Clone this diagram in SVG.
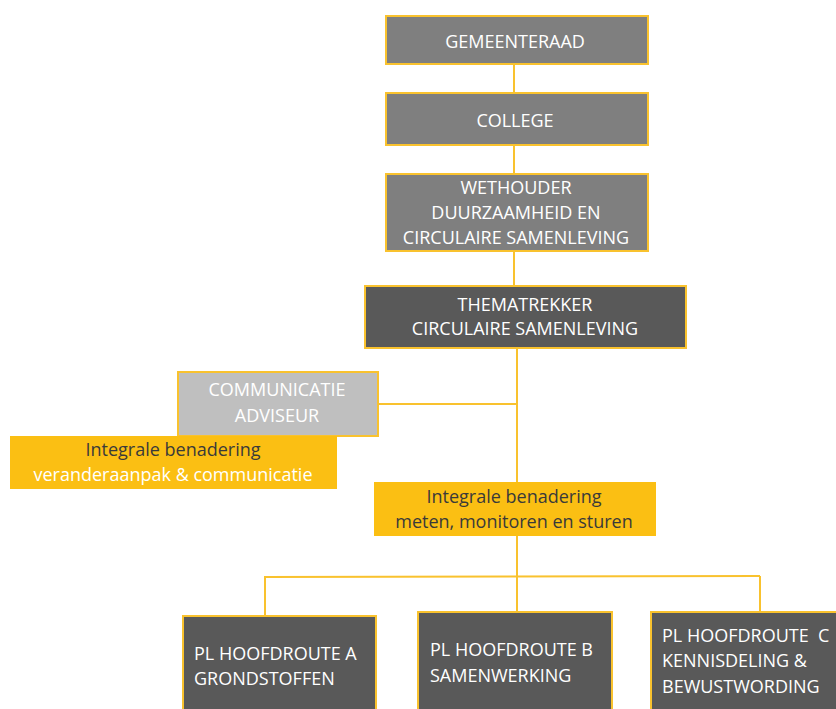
<svg xmlns="http://www.w3.org/2000/svg" width="836" height="709" viewBox="0 0 836 709">
<style>
.box{stroke:#f9c22e;stroke-width:2}
.g1{fill:#7f7f7f}
.g2{fill:#595959}
.g3{fill:#bfbfbf}
.or{fill:#fbbf13}
text{font-family:"Open Sans","Liberation Sans",sans-serif;font-size:18px}
.w{fill:#ffffff}
.d{fill:#3a3a3a}
.c{text-anchor:middle}
.conn line{stroke:#f9c22e;stroke-width:2}
</style>
<rect width="836" height="709" fill="#ffffff"/>
<g class="conn" id="connectors">
<line x1="514" y1="64" x2="514" y2="93"/>
<line x1="514" y1="145" x2="514" y2="174"/>
<line x1="514" y1="251" x2="514" y2="286"/>
<line x1="517" y1="348" x2="517" y2="482"/>
<line x1="378" y1="404" x2="517" y2="404"/>
<line x1="517" y1="536" x2="517" y2="612"/>
<line x1="265" y1="577" x2="760" y2="576"/>
<line x1="265" y1="576" x2="265" y2="616"/>
<line x1="760" y1="576" x2="760" y2="612"/>
</g>
<g id="gemeenteraad">
<rect class="box g1" x="386" y="16" width="262" height="48"/>
<text class="w c" x="515" y="48">GEMEENTERAAD</text>
</g>
<g id="college">
<rect class="box g1" x="386" y="93" width="262" height="52"/>
<text class="w c" x="515" y="127">COLLEGE</text>
</g>
<g id="wethouder">
<rect class="box g1" x="386" y="174" width="262" height="77"/>
<text class="w c" x="516" y="194">WETHOUDER</text>
<text class="w c" x="516" y="219">DUURZAAMHEID EN</text>
<text class="w c" x="516" y="244">CIRCULAIRE SAMENLEVING</text>
</g>
<g id="thematrekker">
<rect class="box g2" x="365" y="286" width="321" height="62"/>
<text class="w c" x="525" y="311">THEMATREKKER</text>
<text class="w c" x="525" y="335">CIRCULAIRE SAMENLEVING</text>
</g>
<g id="communicatie">
<rect class="box g3" x="178" y="372" width="200" height="64"/>
<text class="w c" x="277" y="396">COMMUNICATIE</text>
<text class="w c" x="277" y="422">ADVISEUR</text>
</g>
<g id="integrale-communicatie">
<rect class="or" x="10" y="436" width="327" height="53"/>
<text class="d c" x="173" y="456">Integrale benadering</text>
<text class="w c" x="173" y="481">veranderaanpak &amp; communicatie</text>
</g>
<g id="integrale-meten">
<rect class="or" x="374" y="482" width="282" height="54"/>
<text class="d c" x="514" y="503">Integrale benadering</text>
<text class="d c" x="514" y="528">meten, monitoren en sturen</text>
</g>
<g id="route-a">
<rect class="box g2" x="183" y="616" width="193" height="100"/>
<text class="w" x="194" y="660">PL HOOFDROUTE A</text>
<text class="w" x="194" y="685">GRONDSTOFFEN</text>
</g>
<g id="route-b">
<rect class="box g2" x="418" y="612" width="194" height="104"/>
<text class="w" x="430" y="656">PL HOOFDROUTE B</text>
<text class="w" x="430" y="682">SAMENWERKING</text>
</g>
<g id="route-c">
<rect class="box g2" x="651" y="612" width="195" height="104"/>
<text class="w" x="662" y="642" xml:space="preserve">PL HOOFDROUTE  C</text>
<text class="w" x="662" y="667">KENNISDELING &amp;</text>
<text class="w" x="662" y="693">BEWUSTWORDING</text>
</g>
</svg>
